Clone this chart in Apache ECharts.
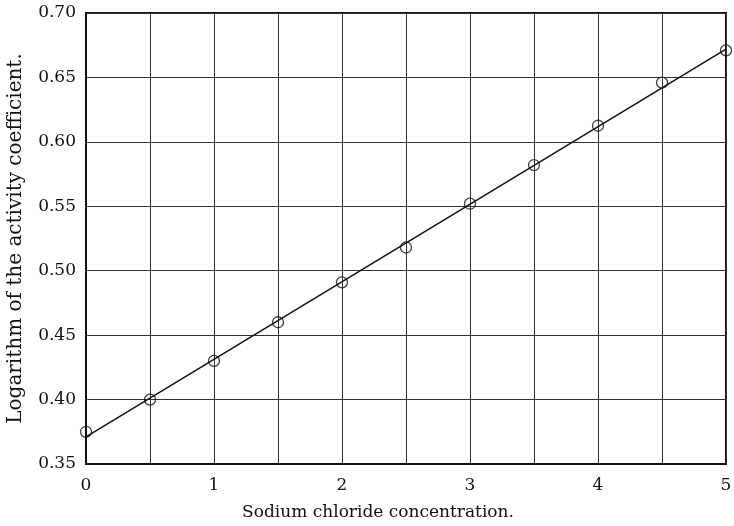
<!DOCTYPE html>
<html>
<head>
<meta charset="utf-8">
<script src="https://cdn.jsdelivr.net/npm/echarts@6/dist/echarts.min.js"></script>
<style>html,body{margin:0;padding:0;background:#fff}#c{width:734px;height:526px}</style>
</head>
<body>
<div id="c"></div>
<script>
const concentration = [0, 0.5, 1, 1.5, 2, 2.5, 3, 3.5, 4, 4.5, 5];
const logActivity = [0.375, 0.400, 0.430, 0.460, 0.491, 0.518, 0.552, 0.582, 0.6125, 0.646, 0.671];
const fitX = [0, 5];
const fitY = [0.371, 0.672];
const xTitle = 'Sodium chloride concentration.';
const yTitle = 'Logarithm of the activity coefficient.';

const font = 'DejaVu Serif';
const chart = echarts.init(document.getElementById('c'), null, {renderer: 'canvas'});
chart.setOption({
  animation: false,
  backgroundColor: '#fff',
  grid: {left: 86, right: 8, top: 13, bottom: 62, show: true, borderColor: '#111', borderWidth: 2,
         containLabel: false, outerBoundsMode: 'none'},
  xAxis: {
    type: 'value', min: 0, max: 5, interval: 0.5,
    name: xTitle, nameLocation: 'middle', nameGap: 40,
    nameTextStyle: {fontFamily: font, fontSize: 17, color: '#111', padding: [0, 56, 0, 0]},
    axisLine: {show: true, lineStyle: {color: '#111', width: 2}},
    axisTick: {show: false},
    axisLabel: {fontFamily: font, fontSize: 17, color: '#111', margin: 13,
      formatter: v => (Math.abs(v - Math.round(v)) < 1e-9 ? String(Math.round(v)) : '')},
    splitLine: {show: true, lineStyle: {color: '#333', width: 1}}
  },
  yAxis: {
    type: 'value', min: 0.35, max: 0.70, interval: 0.05,
    name: yTitle, nameLocation: 'middle', nameGap: 60,
    nameTextStyle: {fontFamily: font, fontSize: 20, color: '#111'},
    axisLine: {show: true, lineStyle: {color: '#111', width: 2}},
    axisTick: {show: false},
    axisLabel: {fontFamily: font, fontSize: 17, color: '#111', margin: 10,
      formatter: v => v.toFixed(2)},
    splitLine: {show: true, lineStyle: {color: '#333', width: 1}}
  },
  series: [
    {
      type: 'line',
      data: fitX.map((x, i) => [x, fitY[i]]),
      symbol: 'none',
      lineStyle: {color: '#111', width: 1.5},
      z: 3
    },
    {
      type: 'scatter',
      data: concentration.map((x, i) => [x, logActivity[i]]),
      symbol: 'circle',
      symbolSize: 11,
      itemStyle: {color: 'rgba(0,0,0,0)', borderColor: '#111', borderWidth: 1.3},
      clip: false,
      z: 4
    }
  ]
});
</script>
</body>
</html>
